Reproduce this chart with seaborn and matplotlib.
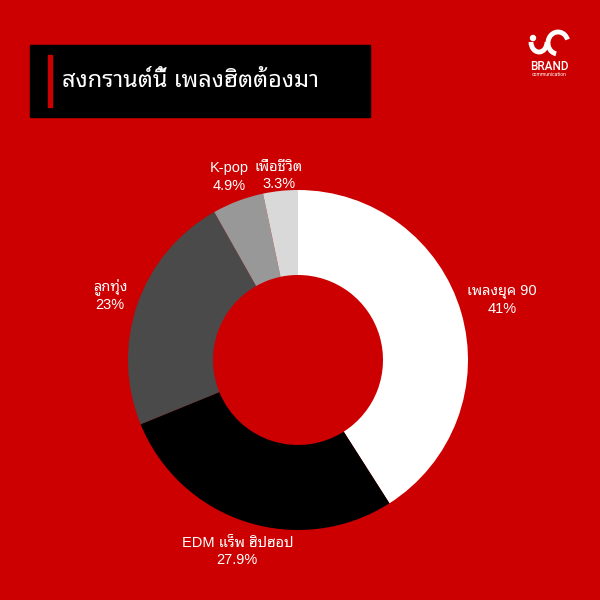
import matplotlib
matplotlib.use("Agg")
import matplotlib.pyplot as plt
import seaborn as sns
import numpy as np
from matplotlib import font_manager
from matplotlib.patches import Rectangle, Arc, Circle
from fontTools.ttLib import TTFont

# === Data ===
title = "สงกรานต์นี้ เพลงฮิตต้องมา"
genres = ["เพลงยุค 90", "EDM แร็พ ฮิปฮอป", "ลูกทุ่ง", "K-pop", "เพื่อชีวิต"]
shares = [41, 27.9, 23, 4.9, 3.3]
share_labels = ["41%", "27.9%", "23%", "4.9%", "3.3%"]
slice_colors = ["#ffffff", "#000000", "#4a4a4a", "#989898", "#d9d9d9"]
label_dist = [1.25, 1.18, 1.17, 1.15, 1.09]

RED = "#cc0000"

# === Find a font that has Thai glyphs ===
def has_thai(path):
    try:
        f = TTFont(path, fontNumber=0, lazy=True)
        cmap = f.getBestCmap() or {}
        return 0x0E2A in cmap and 0x0E49 in cmap
    except Exception:
        return False

found = {}
for fe in font_manager.fontManager.ttflist:
    if fe.name not in found and has_thai(fe.fname):
        found[fe.name] = fe.fname

thai_family = None
for p in ["Noto Sans Thai", "Noto Sans Thai Looped", "Loma", "Garuda", "Tlwg"]:
    for name in found:
        if name.startswith(p):
            thai_family = name
            break
    if thai_family:
        break
if thai_family is None and found:
    thai_family = sorted(found)[0]

sns.set_theme(style="white")
thai = [thai_family] if thai_family else []
plt.rcParams["font.family"] = ["Liberation Sans"] + thai + ["DejaVu Sans"]

# === Figure ===
fig = plt.figure(figsize=(6, 6), dpi=100, facecolor=RED)

# title box
fig.patches.append(Rectangle((30 / 600, 1 - 117 / 600), 340 / 600, 72 / 600,
                             transform=fig.transFigure, color="black", zorder=0))
fig.patches.append(Rectangle((48 / 600, 1 - 107 / 600), 4 / 600, 52 / 600,
                             transform=fig.transFigure, color=RED, zorder=1))
fig.text(62 / 600, 1 - 81 / 600, title, color="white", fontsize=17,
         fontweight="bold", va="center", ha="left", family=thai + ["DejaVu Sans"])

# logo
fig.text(549 / 600, 1 - 66 / 600, "BRAND", color="white", fontsize=8.5,
         fontweight="medium", ha="center", va="center", family="Roboto")
fig.text(549 / 600, 1 - 74.5 / 600, "communication", color="white", fontsize=3.6,
         ha="center", va="center", family="Roboto")
lax = fig.add_axes([526 / 600, 1 - 57 / 600, 46 / 600, 28 / 600])
lax.set_xlim(0, 46)
lax.set_ylim(0, 28)
lax.axis("off")
lax.add_patch(Arc((13, 15), 16, 20, theta1=180, theta2=360, color="white", lw=3.5))
lax.add_patch(Arc((32, 14), 20, 22, theta1=20, theta2=260, color="white", lw=3.5))
lax.add_patch(Circle((7, 19), 2.5, color="white"))

# donut
ax = fig.add_axes([128 / 600, 1 - 530 / 600, 340 / 600, 340 / 600])
ax.set_facecolor(RED)
wedges, _ = ax.pie(shares, colors=slice_colors, startangle=90, counterclock=False,
                   wedgeprops=dict(width=0.5, linewidth=0), normalize=True)
ax.set_xlim(-1, 1)
ax.set_ylim(-1, 1)
ax.set_aspect("equal")
ax.axis("off")

for w, g, s, d in zip(wedges, genres, share_labels, label_dist):
    ang = np.deg2rad((w.theta1 + w.theta2) / 2)
    ax.text(d * np.cos(ang), d * np.sin(ang), f"{g}\n{s}", color="white",
            fontsize=10.5, ha="center", va="center", linespacing=1.3)

fig.savefig("out.png", dpi=100, facecolor=RED)
